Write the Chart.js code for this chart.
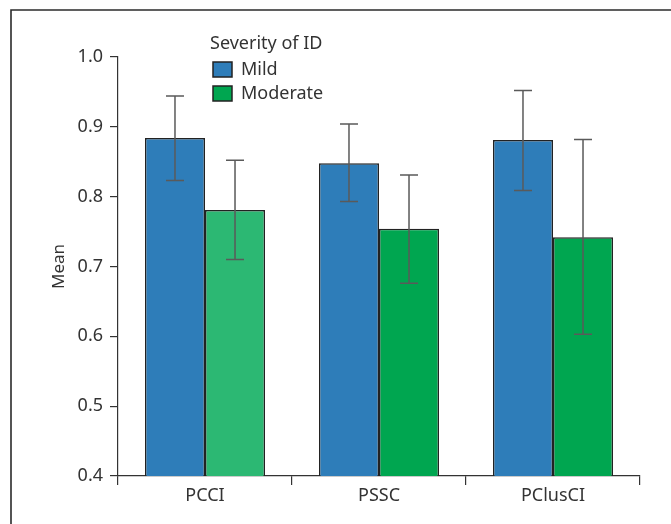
<!DOCTYPE html>
<html>
<head>
<meta charset="utf-8">
<script src="https://cdn.jsdelivr.net/npm/chart.js@4/dist/chart.umd.min.js"></script>
<style>
  html, body { margin: 0; padding: 0; background: #fff; }
  #wrap { width: 671px; height: 524px; }
</style>
</head>
<body>
<div id="wrap"><canvas id="c" width="671" height="524"></canvas></div>
<script>
const categories = ['PCCI', 'PSSC', 'PClusCI'];
const mildMean = [0.884, 0.848, 0.881];
const mildLow = [0.823, 0.793, 0.809];
const mildHigh = [0.944, 0.904, 0.952];
const moderateMean = [0.781, 0.754, 0.742];
const moderateLow = [0.710, 0.676, 0.603];
const moderateHigh = [0.852, 0.831, 0.882];
const yTicks = [0.4, 0.5, 0.6, 0.7, 0.8, 0.9, 1.0];

const FONT = '"Noto Sans", "Open Sans", sans-serif';
const INK = '#333';

// frame around the figure (only top and left edges show in the crop)
const framePlugin = {
    id: 'frame',
    beforeDraw: chart => {
        const {ctx} = chart;
        ctx.save();
        ctx.strokeStyle = '#2b2b2b';
        ctx.lineWidth = 1.6;
        ctx.beginPath();
        ctx.moveTo(11, 530);
        ctx.lineTo(11, 10);
        ctx.lineTo(680, 10);
        ctx.stroke();
        ctx.restore();
    }
};

// error bars from low/high arrays
const errorBarsPlugin = {
    id: 'errorBars',
    afterDatasetsDraw: chart => {
        const {ctx} = chart;
        const yScale = chart.scales.y;
        ctx.save();
        ctx.strokeStyle = '#5a5a5a';
        ctx.lineWidth = 1.5;
        chart.data.datasets.forEach((ds, i) => {
            chart.getDatasetMeta(i).data.forEach((bar, j) => {
                const x = bar.x;
                const yLo = yScale.getPixelForValue(ds.low[j]);
                const yHi = yScale.getPixelForValue(ds.high[j]);
                const cap = 9;
                ctx.beginPath();
                ctx.moveTo(x, yLo);
                ctx.lineTo(x, yHi);
                ctx.moveTo(x - cap, yHi);
                ctx.lineTo(x + cap, yHi);
                ctx.moveTo(x - cap, yLo);
                ctx.lineTo(x + cap, yLo);
                ctx.stroke();
            });
        });
        ctx.restore();
    }
};

// legend with title, placed inside the plot
const boxLegendPlugin = {
    id: 'boxLegend',
    afterDraw: chart => {
        const {ctx} = chart;
        ctx.save();
        ctx.font = '18px ' + FONT;
        ctx.fillStyle = INK;
        ctx.textBaseline = 'middle';
        ctx.textAlign = 'left';
        ctx.fillText('Severity of ID', 210, 44);
        chart.data.datasets.forEach((ds, i) => {
            const y = 62 + i * 24;
            ctx.fillStyle = ds.legendColor;
            ctx.fillRect(213, y, 19, 15);
            ctx.strokeStyle = '#222';
            ctx.lineWidth = 1.5;
            ctx.strokeRect(213, y, 19, 15);
            ctx.fillStyle = INK;
            ctx.fillText(ds.label, 241, y + 8);
        });
        ctx.restore();
    }
};

new Chart(document.getElementById('c'), {
    type: 'bar',
    data: {
        labels: categories,
        datasets: [{
            label: 'Mild',
            data: mildMean,
            low: mildLow,
            high: mildHigh,
            backgroundColor: '#2e7db9',
            legendColor: '#2e7db9',
            borderColor: '#222',
            borderWidth: 1.5,
            borderSkipped: 'bottom'
        }, {
            label: 'Moderate',
            data: moderateMean,
            low: moderateLow,
            high: moderateHigh,
            backgroundColor: ['#2cb873', '#00a650', '#00a650'],
            legendColor: '#00a650',
            borderColor: '#222',
            borderWidth: 1.5,
            borderSkipped: 'bottom'
        }]
    },
    options: {
        responsive: false,
        animation: false,
        devicePixelRatio: 1,
        layout: {padding: {top: 57, right: 31, left: 0, bottom: 0}},
        categoryPercentage: 0.69,
        barPercentage: 1.0,
        scales: {
            x: {
                afterFit: scale => { scale.height = 48; },
                grid: {drawOnChartArea: false, color: INK, tickLength: 9, lineWidth: 1.2},
                border: {color: INK, width: 1.2},
                ticks: {color: INK, font: {family: FONT, size: 18}, padding: 0}
            },
            y: {
                min: 0.4,
                max: 1.0,
                afterFit: scale => { scale.width = 118; },
                afterBuildTicks: scale => { scale.ticks = yTicks.map(v => ({value: v})); },
                grid: {drawOnChartArea: false, color: INK, tickLength: 8, lineWidth: 1.2},
                border: {color: INK, width: 1.2},
                ticks: {
                    color: INK,
                    font: {family: FONT, size: 18},
                    padding: 7,
                    callback: value => value.toFixed(1)
                },
                title: {
                    display: true,
                    text: 'Mean',
                    color: INK,
                    font: {family: FONT, size: 17},
                    padding: {top: 49, bottom: 0}
                }
            }
        },
        plugins: {
            legend: {display: false},
            tooltip: {enabled: false}
        }
    },
    plugins: [framePlugin, errorBarsPlugin, boxLegendPlugin]
});
</script>
</body>
</html>
